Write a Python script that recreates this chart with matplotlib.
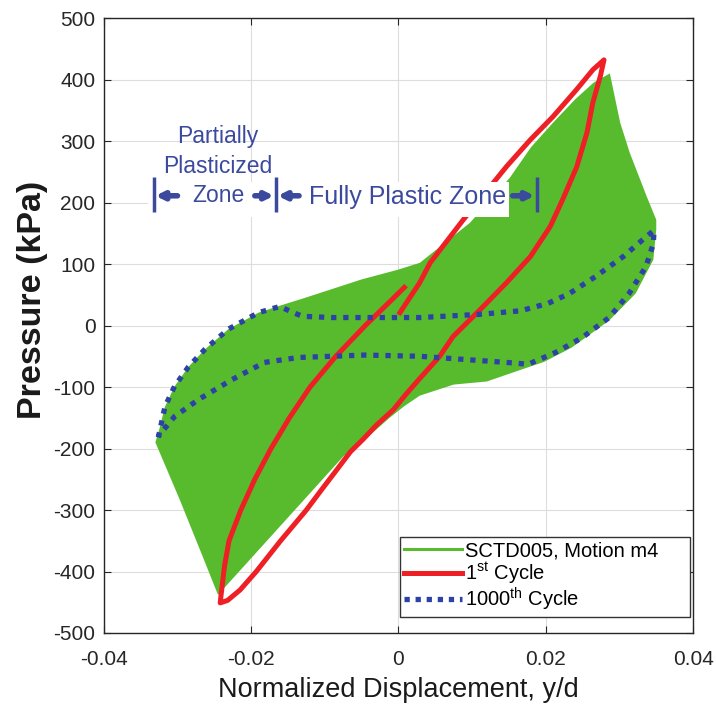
import matplotlib
matplotlib.use("Agg")
import matplotlib.pyplot as plt
from matplotlib.lines import Line2D
from matplotlib.patches import Rectangle

plt.rcParams['font.family'] = ['Liberation Sans', 'DejaVu Sans']
plt.rcParams['axes.unicode_minus'] = False
plt.rcParams['mathtext.fontset'] = 'custom'
plt.rcParams['mathtext.rm'] = 'Liberation Sans'

# ---------------- data ----------------
# envelope of all cycles (SCTD005, Motion m4)
green_x = [-0.0330, -0.0325, -0.0317, -0.0304, -0.0285, -0.0263, -0.0231, -0.0190,
           -0.0159, -0.0127, -0.0091, -0.0050, 0.0000, 0.0029, 0.0097, 0.0151,
           0.0180, 0.0210, 0.0240, 0.0265, 0.0287, 0.0301, 0.0314, 0.0337,
           0.0350, 0.0350, 0.0346, 0.0322, 0.0286, 0.0235, 0.0198, 0.0166,
           0.0120, 0.0075, 0.0029, 0.0008, -0.0012, -0.0045, -0.0075, -0.0245,
           -0.0266, -0.0297]
green_y = [-190, -170, -132, -99, -67, -39, -6, 21,
           33, 45, 59, 75, 91, 102, 167, 240,
           290, 330, 368, 395, 410, 330, 281, 210,
           172, 156, 107, 52, 8, -36, -59, -72,
           -91, -96, -114, -131, -150, -185, -213, -438,
           -375, -283]

# 1st cycle
red_x = [0.0002, 0.0029, 0.0043, 0.0088, 0.0147, 0.0179, 0.0210, 0.0242, 0.0264, 0.0279,
         0.0274, 0.0264, 0.0256, 0.0242, 0.0223, 0.0206, 0.0179, 0.0147, 0.0111, 0.0074,
         0.0056, 0.0029, 0.0010, -0.0007, -0.0030, -0.0048, -0.0065, -0.0084, -0.0105,
         -0.0125, -0.0160, -0.0193, -0.0215, -0.0232, -0.0242,
         -0.0241, -0.0239, -0.0236, -0.0230, -0.0214, -0.0195, -0.0173, -0.0148, -0.0120,
         -0.0085, -0.0045, -0.0009, 0.0008]
red_y = [21, 70, 102, 172, 259, 302, 340, 384, 416, 432,
         405, 363, 314, 258, 205, 161, 112, 70, 26, -18,
         -50, -86, -112, -137, -162, -185, -205, -235, -268,
         -300, -350, -400, -430, -447, -451,
         -440, -420, -390, -350, -300, -250, -200, -150, -100,
         -50, 0, 42, 62]

# 1000th cycle
blue_x = [-0.0326, -0.0317, -0.0304, -0.0285, -0.0263, -0.0231, -0.0190, -0.0161, -0.0143,
          -0.0130, -0.0091, 0.0029, 0.0108, 0.0166, 0.0203, 0.0232, 0.0268, 0.0305, 0.0332,
          0.0347, 0.0346, 0.0336, 0.0313, 0.0286, 0.0249, 0.0213, 0.0176, 0.0158, 0.0029,
          -0.0046, -0.0136, -0.0182, -0.0226, -0.0271, -0.0304, -0.0326]
blue_y = [-182, -132, -99, -67, -39, -6, 21, 31, 21,
          15, 13, 13, 18, 24, 36, 52, 80, 112, 140,
          155, 133, 96, 52, 13, -20, -44, -63, -61, -50,
          -48, -52, -60, -88, -120, -148, -180]

x_ticks = [-0.04, -0.02, 0, 0.02, 0.04]
x_tick_labels = ['-0.04', '-0.02', '0', '0.02', '0.04']
y_ticks = [-500, -400, -300, -200, -100, 0, 100, 200, 300, 400, 500]

legend_labels = ['SCTD005, Motion m4', r'1$^{\mathrm{st}}$ Cycle', r'1000$^{\mathrm{th}}$ Cycle']

GREEN = '#58BB2E'
RED = '#EE1F25'
BLUE = '#2D42A6'
ANN = '#3C4A9E'

# ---------------- figure ----------------
fig = plt.figure(figsize=(7.16, 7.06), dpi=100)
ax = fig.add_axes([0.145, 0.1034, 0.823, 0.871])

ax.fill(green_x, green_y, color=GREEN, lw=0, zorder=2)
ax.plot(red_x, red_y, color=RED, lw=3.6, zorder=3, solid_joinstyle='round')
ax.plot(blue_x, blue_y, color=BLUE, lw=3.8, linestyle=(0, (1, 1.3)), zorder=3)

ax.set_xlim(-0.04, 0.04)
ax.set_ylim(-500, 500)
ax.set_xticks(x_ticks)
ax.set_xticklabels(x_tick_labels)
ax.set_yticks(y_ticks)
ax.tick_params(direction='in', top=True, right=True, length=5, labelsize=15,
               colors='#262626')
ax.tick_params(axis='x', pad=12)
ax.tick_params(axis='y', pad=6)
ax.grid(True, color='#DDDDDD', lw=0.8, zorder=0)
ax.set_axisbelow(True)
for s in ax.spines.values():
    s.set_color('#262626')
    s.set_linewidth(1.0)

ax.set_xlabel('Normalized Displacement, y/d', fontsize=19.5, color='#1a1a1a', labelpad=6)
ax.set_ylabel('Pressure (kPa)', fontsize=24.5, fontweight='bold', color='#1a1a1a')
ax.yaxis.set_label_coords(-0.095, 0.541)

# ---------------- annotations ----------------
ax.add_patch(Rectangle((-0.0340, 176), 0.0490, 58, facecolor='white', edgecolor='none', zorder=4))
for xb in [-0.0332, -0.0166, 0.0188]:
    ax.plot([xb, xb], [185, 241], color=ANN, lw=2.5, zorder=5, solid_capstyle='butt')

def arrow(x0, x1, y):
    ax.annotate('', xy=(x1, y), xytext=(x0, y),
                arrowprops=dict(arrowstyle='-|>', color=ANN, lw=4, mutation_scale=11,
                                shrinkA=0, shrinkB=0), zorder=5)

arrow(-0.0300, -0.0330, 211)
arrow(-0.0195, -0.0169, 211)
arrow(-0.0135, -0.0164, 211)
arrow(0.0155, 0.0185, 211)

ax.text(-0.0245, 308, 'Partially', color=ANN, fontsize=16.5, ha='center', va='center', zorder=5)
ax.text(-0.0245, 259, 'Plasticized', color=ANN, fontsize=16.5, ha='center', va='center', zorder=5)
ax.text(-0.0245, 211, 'Zone', color=ANN, fontsize=16.5, ha='center', va='center', zorder=5)
ax.text(0.0013, 209, 'Fully Plastic Zone', color=ANN, fontsize=18, ha='center', va='center', zorder=5)

# ---------------- legend ----------------
handles = [Line2D([], [], color=GREEN, lw=2.2),
           Line2D([], [], color=RED, lw=3.6),
           Line2D([], [], color=BLUE, lw=3.8, linestyle=(0, (1, 1.1)))]
leg = ax.legend(handles, legend_labels, loc='lower left',
                bbox_to_anchor=(0.5025, 0.026, 0.4925, 0.12), mode='expand',
                borderaxespad=0, fontsize=14.5, handlelength=2.9, handletextpad=0.15,
                labelspacing=0.0, fancybox=False, framealpha=1, edgecolor='#333333',
                borderpad=0.2)
leg.get_frame().set_linewidth(1.0)
leg.set_zorder(6)

fig.savefig('out.png', dpi=100)
